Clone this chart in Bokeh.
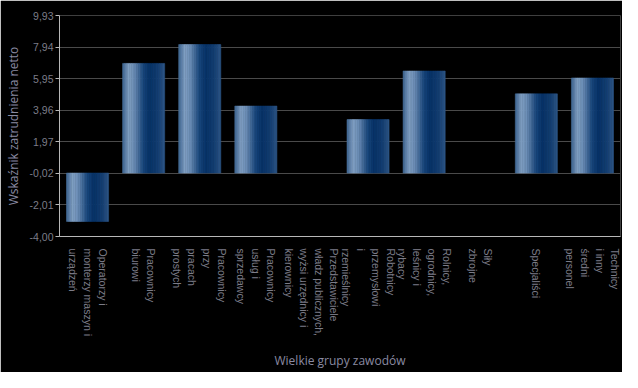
import math
from bokeh.plotting import figure
from bokeh.models import FactorRange, Range1d, FixedTicker, CustomJSTickFormatter
from bokeh.transform import dodge
from bokeh.embed import file_html
from bokeh.resources import INLINE

categories = [
    "Operatorzy i\nmonterzy maszyn i\nurządzeń",
    "Pracownicy\nbiurowi",
    "Pracownicy\nprzy\npracach\nprostych",
    "Pracownicy\nusług i\nsprzedawcy",
    "Przedstawiciele\nwładz publicznych,\nwyżsi urzędnicy i\nkierownicy",
    "Robotnicy\nprzemysłowi\ni\nrzemieślnicy",
    "Rolnicy,\nogrodnicy,\nleśnicy i\nrybacy",
    "Siły\nzbrojne",
    "Specjaliści",
    "Technicy\ni inny\nśredni\npersonel",
]
values = [-3.05, 6.91, 8.10, 4.22, float("nan"), 3.37, 6.43, float("nan"), 4.99, 5.99]
y_ticks = [-4.00, -2.01, -0.02, 1.97, 3.96, 5.95, 7.94, 9.93]
x_title = "Wielkie grupy zawodów"
y_title = "Wskaźnik zatrudnienia netto"

# gradient style stops (position across bar width, colour)
stops = [
    (0.00, (0x3b, 0x62, 0x90)),
    (0.15, (0x80, 0xa0, 0xc2)),
    (0.28, (0x6c, 0x8e, 0xb6)),
    (0.50, (0x18, 0x46, 0x7c)),
    (0.65, (0x08, 0x33, 0x68)),
    (0.85, (0x14, 0x3f, 0x72)),
    (1.00, (0x2e, 0x56, 0x86)),
]

def grad_color(t):
    for (p0, c0), (p1, c1) in zip(stops[:-1], stops[1:]):
        if p0 <= t <= p1:
            f = (t - p0) / (p1 - p0)
            c = [round(a + (b - a) * f) for a, b in zip(c0, c1)]
            return "#%02x%02x%02x" % tuple(c)
    return "#%02x%02x%02x" % stops[-1][1]

p = figure(
    width=622, height=372,
    x_range=FactorRange(factors=categories, range_padding=0),
    y_range=Range1d(-4.0, 9.93),
    output_backend="svg", toolbar_location=None,
    min_border_left=59, min_border_right=2, min_border_top=15, min_border_bottom=134,
)
p.background_fill_color = "black"
p.border_fill_color = "black"
p.outline_line_color = None

source = dict(cat=categories, val=values)
bar_w = 0.75
n = 24
sw = bar_w / n
for i in range(n):
    t = (i + 0.5) / n
    off = -bar_w / 2 + (i + 0.5) * sw
    col = grad_color(t)
    p.vbar(x=dodge("cat", off, range=p.x_range), top="val", bottom=0, width=sw,
           source=source, fill_color=col, line_color=col, line_width=0.6)

p.xgrid.grid_line_color = None
p.ygrid.grid_line_color = "#4a4a4a"
p.ygrid.grid_line_width = 1

p.yaxis.ticker = FixedTicker(ticks=y_ticks)
p.yaxis.formatter = CustomJSTickFormatter(code="return tick.toFixed(2).replace('.', ',');")
for ax in (p.xaxis[0], p.yaxis[0]):
    ax.axis_line_color = "#b8b8b8"
    ax.major_label_text_color = "#7c7c88"
    ax.major_label_text_font = "Liberation Sans"
    ax.major_label_text_font_size = "10.5px"
    ax.axis_label_text_color = "#8a8aa2"
    ax.axis_label_text_font = "Open Sans"
    ax.axis_label_text_font_size = "12px"
    ax.axis_label_text_font_style = "normal"
    ax.minor_tick_line_color = None

p.yaxis.axis_label = y_title
p.yaxis.major_tick_line_color = "#b8b8b8"
p.yaxis.major_tick_out = 4
p.yaxis.major_tick_in = 0
p.yaxis.major_label_standoff = 2
p.yaxis.axis_label_standoff = 5

p.xaxis.axis_label = x_title
p.xaxis.major_tick_line_color = None
p.xaxis.major_label_orientation = -math.pi / 2
p.xaxis.major_label_text_line_height = 1.25
p.xaxis.major_label_standoff = 6
p.xaxis.axis_label_standoff = 13

open("out.html", "w").write(file_html(p, INLINE))
